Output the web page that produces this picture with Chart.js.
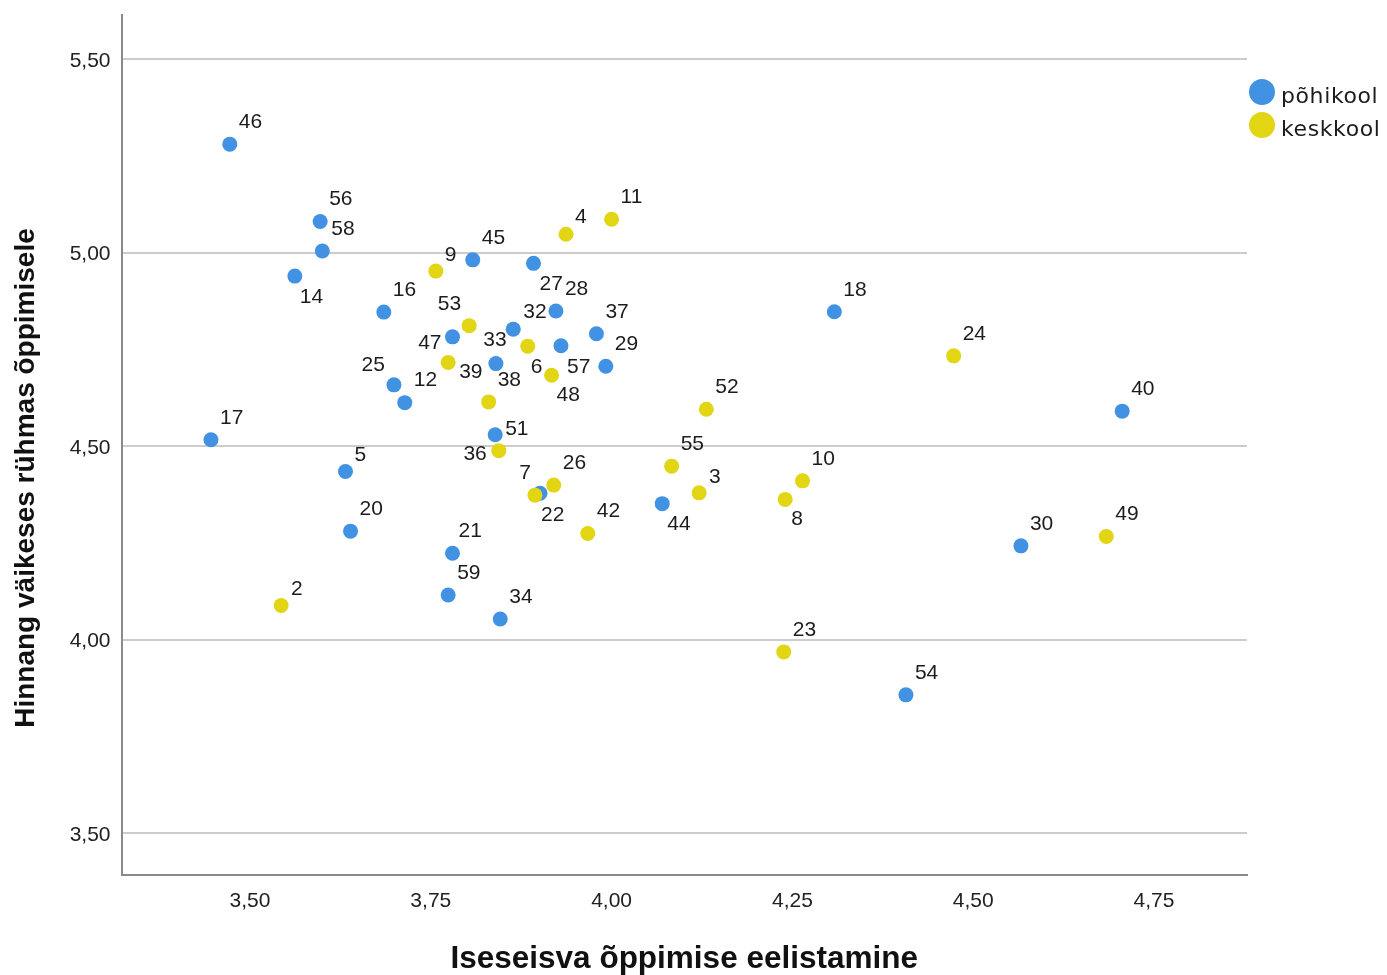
<!DOCTYPE html>
<html><head><meta charset="utf-8">
<script src="https://cdn.jsdelivr.net/npm/chart.js@4"></script>
<style>html,body{margin:0;padding:0;background:#fff;}#wrap{position:absolute;left:0;top:0;width:1387px;height:975px;}</style>
</head><body><div id="wrap"><canvas id="c" width="1387" height="975"></canvas></div>
<script>
// ---- data ----
const seriesNames = ['põhikool', 'keskkool'];
const pohikoolIds = [46, 56, 58, 14, 16, 45, 27, 28, 32, 47, 33, 37, 29, 57, 25, 12, 17, 51, 5, 20, 22, 21, 59, 34, 44, 18, 40, 30, 54];
const pohikoolX = [3.472, 3.597, 3.600, 3.562, 3.685, 3.808, 3.892, 3.923, 3.864, 3.780, 3.840, 3.979, 3.992, 3.930, 3.699, 3.714, 3.446, 3.839, 3.632, 3.639, 3.901, 3.780, 3.774, 3.846, 4.070, 4.308, 4.706, 4.566, 4.407];
const pohikoolY = [5.280, 5.080, 5.004, 4.939, 4.846, 4.981, 4.972, 4.849, 4.802, 4.782, 4.713, 4.790, 4.706, 4.759, 4.658, 4.612, 4.516, 4.529, 4.434, 4.280, 4.378, 4.223, 4.115, 4.053, 4.351, 4.847, 4.590, 4.242, 3.857];
const keskkoolIds = [11, 4, 9, 53, 39, 6, 48, 38, 36, 7, 26, 42, 2, 52, 55, 3, 10, 8, 23, 24, 49];
const keskkoolX = [4.000, 3.937, 3.757, 3.803, 3.774, 3.884, 3.917, 3.830, 3.844, 3.894, 3.920, 3.967, 3.543, 4.131, 4.083, 4.121, 4.264, 4.240, 4.238, 4.473, 4.684];
const keskkoolY = [5.086, 5.047, 4.952, 4.811, 4.716, 4.758, 4.683, 4.614, 4.488, 4.373, 4.399, 4.274, 4.088, 4.595, 4.448, 4.379, 4.410, 4.362, 3.968, 4.733, 4.266];
const xTickValues = [3.5, 3.75, 4.0, 4.25, 4.5, 4.75];
const yTickValues = [3.5, 4.0, 4.5, 5.0, 5.5];
const xAxisTitle = 'Iseseisva õppimise eelistamine';
const yAxisTitle = 'Hinnang väikeses rühmas õppimisele';

// ---- styling ----
const colors = ['#4192e3', '#e2d514'];
const defaultPlacement = [9, -22, 'l'];
const labelPlacement = {
  14: [5, 21, 'l'], 27: [6, 21, 'l'], 57: [6, 21, 'l'], 48: [5, 20, 'l'], 44: [5, 21, 'l'],
  6: [3, 21, 'l'], 22: [1, 22, 'l'], 8: [6, 20, 'l'],
  9: [9, -16, 'l'], 4: [9, -17, 'l'], 5: [9, -16, 'l'], 2: [10, -16, 'l'], 3: [10, -16, 'l'],
  32: [10, -17, 'l'], 51: [10, -6, 'l'], 39: [11, 10, 'l'], 21: [6, -22, 'l'],
  47: [-11, 6, 'r'], 36: [-12, 4, 'r'], 53: [-8, -21, 'r'], 25: [-9, -20, 'r'], 7: [-4, -22, 'r'],
  33: [-1, -23, 'c']
};
const fmt = v => v.toFixed(2).replace('.', ',');

function pts(xs, ys) { return xs.map((x, i) => ({ x: x, y: ys[i] })); }

const pointLabels = {
  id: 'pointLabels',
  afterDatasetsDraw(chart) {
    const ctx = chart.ctx;
    ctx.save();
    ctx.font = '21px "Liberation Sans", Arial, sans-serif';
    ctx.fillStyle = '#1c1c1c';
    ctx.textBaseline = 'middle';
    chart.data.datasets.forEach((ds, i) => {
      const meta = chart.getDatasetMeta(i);
      meta.data.forEach((el, j) => {
        const id = ds.ids[j];
        const p = labelPlacement[id] || defaultPlacement;
        ctx.textAlign = p[2] === 'l' ? 'left' : (p[2] === 'r' ? 'right' : 'center');
        ctx.fillText(String(id), el.x + p[0], el.y + p[1]);
      });
    });
    ctx.restore();
  }
};

const yTitle = {
  id: 'yTitle',
  afterDraw(chart) {
    const ctx = chart.ctx;
    ctx.save();
    ctx.font = 'bold 28px "Liberation Sans", Arial, sans-serif';
    ctx.fillStyle = '#111';
    ctx.textAlign = 'center';
    ctx.textBaseline = 'middle';
    ctx.translate(26, (chart.chartArea.top + chart.chartArea.bottom) / 2 + 33);
    ctx.rotate(-Math.PI / 2);
    ctx.fillText(yAxisTitle, 0, 0);
    ctx.restore();
  }
};

const sideLegend = {
  id: 'sideLegend',
  afterDraw(chart) {
    const ctx = chart.ctx;
    ctx.save();
    ctx.font = '22px "DejaVu Sans", sans-serif';
    try { ctx.letterSpacing = '0.6px'; } catch (e) {}
    ctx.textBaseline = 'alphabetic';
    ctx.textAlign = 'left';
    chart.data.datasets.forEach((ds, i) => {
      const cy = 92 + i * 33;
      ctx.beginPath();
      ctx.arc(1262, cy, 13, 0, Math.PI * 2);
      ctx.fillStyle = ds.backgroundColor;
      ctx.fill();
      ctx.fillStyle = '#1c1c1c';
      ctx.fillText(ds.label, 1281, cy + 11);
    });
    ctx.restore();
  }
};

new Chart(document.getElementById('c'), {
  type: 'scatter',
  data: {
    datasets: [
      { label: seriesNames[0], ids: pohikoolIds, data: pts(pohikoolX, pohikoolY), backgroundColor: colors[0], borderWidth: 0, pointRadius: 7.5, pointHoverRadius: 7.5, order: 1 },
      { label: seriesNames[1], ids: keskkoolIds, data: pts(keskkoolX, keskkoolY), backgroundColor: colors[1], borderWidth: 0, pointRadius: 7.5, pointHoverRadius: 7.5, order: 0 }
    ]
  },
  options: {
    responsive: false,
    animation: false,
    devicePixelRatio: 1,
    layout: { padding: { top: 15, right: 140, left: 0, bottom: 0 } },
    plugins: { legend: { display: false }, tooltip: { enabled: false } },
    scales: {
      x: {
        type: 'linear', min: 3.3223, max: 4.8786,
        afterBuildTicks: s => { s.ticks = xTickValues.map(v => ({ value: v })); },
        afterFit: s => { s.height = 100; s.paddingLeft = 0; s.paddingRight = 0; },
        grid: { display: false, drawTicks: false },
        border: { display: true, color: '#8a8a8a', width: 2 },
        ticks: { padding: 14, color: '#222', font: { family: '"Liberation Sans", Arial, sans-serif', size: 21 }, callback: v => fmt(v), maxRotation: 0, autoSkip: false },
        title: { display: true, text: xAxisTitle, color: '#111', font: { family: '"Liberation Sans", Arial, sans-serif', size: 31.5, weight: 'bold', lineHeight: 1.0 }, padding: { top: 0, bottom: 0 } }
      },
      y: {
        type: 'linear', min: 3.3915, max: 5.6137,
        afterBuildTicks: s => { s.ticks = yTickValues.map(v => ({ value: v })); },
        afterFit: s => { s.width = 121.5; s.paddingTop = 0; s.paddingBottom = 0; },
        grid: { display: true, drawTicks: false, color: '#cccccc', lineWidth: 2 },
        border: { display: true, color: '#8a8a8a', width: 2 },
        ticks: { padding: 11, labelOffset: 2, color: '#222', font: { family: '"Liberation Sans", Arial, sans-serif', size: 21 }, callback: v => fmt(v), autoSkip: false },
        title: { display: false }
      }
    }
  },
  plugins: [pointLabels, yTitle, sideLegend]
});
</script></body></html>
